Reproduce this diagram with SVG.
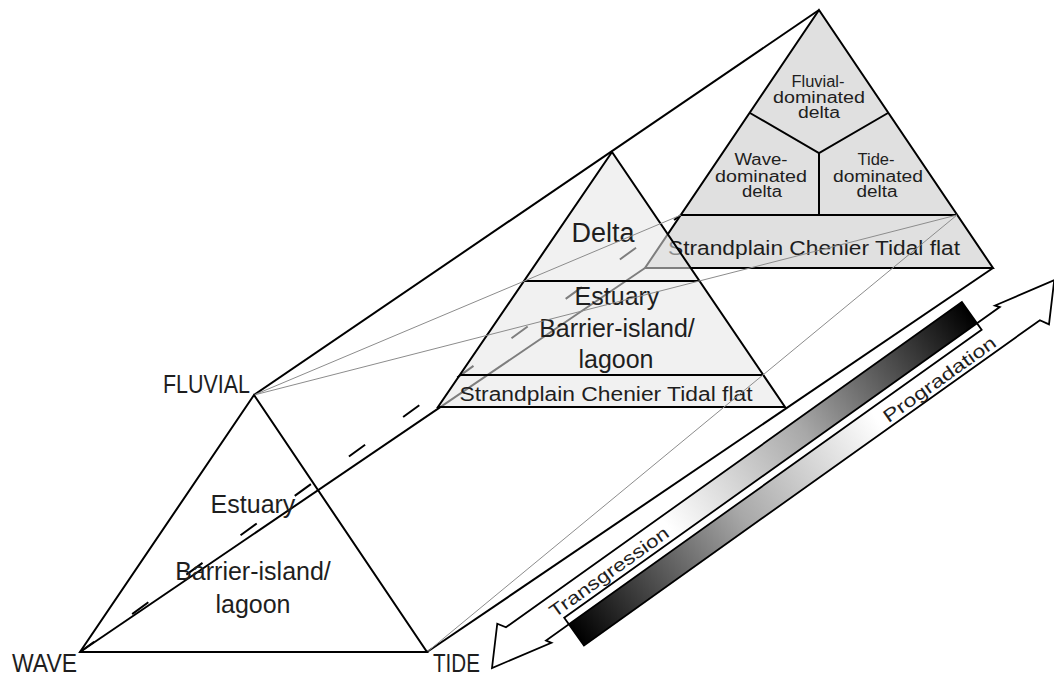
<svg xmlns="http://www.w3.org/2000/svg" width="1054" height="675" viewBox="0 0 1054 675">
<style>
.edge{stroke:#000;stroke-width:2;fill:none;stroke-linejoin:miter}
.thin{stroke:#8c8c8c;stroke-width:1;fill:none}
.t{font-family:"Liberation Sans",Arial,sans-serif;fill:#1e1e1e}
.c{text-anchor:middle}
</style>
<defs>
<linearGradient id="g1" gradientUnits="userSpaceOnUse" x1="225" y1="0" x2="595" y2="0">
<stop offset="0" stop-color="#fff"/><stop offset="0.45" stop-color="#a8a8a8"/><stop offset="1" stop-color="#000"/>
</linearGradient>
<linearGradient id="g2" gradientUnits="userSpaceOnUse" x1="88" y1="0" x2="458" y2="0">
<stop offset="0" stop-color="#000"/><stop offset="0.55" stop-color="#a8a8a8"/><stop offset="1" stop-color="#fff"/>
</linearGradient>
</defs>
<rect width="1054" height="675" fill="#fff"/>

<g id="connectors">
<line class="edge" x1="254" y1="395" x2="819" y2="10"/>
<line class="edge" x1="427" y1="652" x2="993" y2="268"/>
<line class="edge" x1="80" y1="652" x2="645" y2="268"/>
<line class="edge" x1="80" y1="652" x2="681" y2="215" stroke-width="2.4" stroke-dasharray="20 47" stroke-dashoffset="2.5"/>
</g>

<g id="back-triangle">
<polygon points="819,10 645,268 993,268" fill="#e0e0e0" stroke="#000" stroke-width="2"/>
<line class="edge" x1="681" y1="215" x2="957" y2="215"/>
<polyline class="edge" points="750,113 819,153 888,113"/>
<line class="edge" x1="819" y1="153" x2="819" y2="215"/>
<text class="t c" x="818" y="87" font-size="16" textLength="53" lengthAdjust="spacingAndGlyphs">Fluvial-</text>
<text class="t c" x="819" y="103" font-size="16" textLength="92" lengthAdjust="spacingAndGlyphs">dominated</text>
<text class="t c" x="819" y="118" font-size="16" textLength="42" lengthAdjust="spacingAndGlyphs">delta</text>
<text class="t c" x="761" y="165" font-size="16" textLength="53" lengthAdjust="spacingAndGlyphs">Wave-</text>
<text class="t c" x="761" y="182" font-size="16" textLength="92" lengthAdjust="spacingAndGlyphs">dominated</text>
<text class="t c" x="762" y="197" font-size="16" textLength="40" lengthAdjust="spacingAndGlyphs">delta</text>
<text class="t c" x="876" y="165" font-size="16" textLength="37" lengthAdjust="spacingAndGlyphs">Tide-</text>
<text class="t c" x="878" y="182" font-size="16" textLength="90" lengthAdjust="spacingAndGlyphs">dominated</text>
<text class="t c" x="877" y="197" font-size="16" textLength="41" lengthAdjust="spacingAndGlyphs">delta</text>
<text class="t c" x="814" y="255" font-size="20" textLength="292" lengthAdjust="spacingAndGlyphs">Strandplain Chenier Tidal flat</text>
</g>

<g id="middle-triangle">
<polygon points="612,152 438,407 785,407" fill="#e6e6e6" fill-opacity="0.55" stroke="#000" stroke-width="2"/>
<line class="edge" x1="524" y1="281" x2="700" y2="281"/>
<line class="edge" x1="460" y1="375" x2="763" y2="375"/>
<text class="t c" x="603" y="242" font-size="27">Delta</text>
<text class="t c" x="617" y="305" font-size="25">Estuary</text>
<text class="t c" x="617" y="337" font-size="25">Barrier-island/</text>
<text class="t c" x="616" y="368" font-size="25">lagoon</text>
<text class="t c" x="606" y="401" font-size="20" textLength="293" lengthAdjust="spacingAndGlyphs">Strandplain Chenier Tidal flat</text>
</g>

<g id="guide-lines">
<line class="thin" x1="254" y1="395" x2="681" y2="215"/>
<line class="thin" x1="254" y1="395" x2="957" y2="215"/>
<line class="thin" x1="427" y1="652" x2="957" y2="215"/>
</g>

<g id="front-triangle">
<polygon points="254,395 80,652 427,652" fill="none" stroke="#000" stroke-width="2"/>
<text class="t c" x="253" y="513" font-size="25">Estuary</text>
<text class="t c" x="253" y="580" font-size="25">Barrier-island/</text>
<text class="t c" x="253" y="613" font-size="25">lagoon</text>
</g>

<g id="labels">
<text class="t" x="250" y="393" font-size="25" text-anchor="end" textLength="87" lengthAdjust="spacingAndGlyphs">FLUVIAL</text>
<text class="t" x="12" y="672" font-size="25" textLength="65" lengthAdjust="spacingAndGlyphs">WAVE</text>
<text class="t" x="433" y="672" font-size="25" textLength="47" lengthAdjust="spacingAndGlyphs">TIDE</text>
</g>

<g id="arrow" transform="translate(492,668) rotate(-35.5)">
<polygon points="0,0 30,-33 35,-25 595,-25 595,9 60,9 63,14" fill="#fff"/>
<polygon points="683,10.7 653,43.7 648,35 88,35 88,1 623,1 620,-3" fill="#fff"/>
<rect x="225" y="-25" width="370" height="26" fill="url(#g1)"/>
<rect x="88" y="9" width="370" height="26" fill="url(#g2)"/>
<polygon points="0,0 30,-33 35,-25 595,-25 595,9 60,9 63,14" fill="none" stroke="#000" stroke-width="1.8"/>
<polygon points="683,10.7 653,43.7 648,35 88,35 88,1 623,1 620,-3" fill="none" stroke="#000" stroke-width="1.8"/>
<text class="t" x="80" y="-4" font-size="18" textLength="142" lengthAdjust="spacingAndGlyphs">Transgression</text>
<text class="t" x="465" y="31" font-size="18" textLength="134" lengthAdjust="spacingAndGlyphs">Progradation</text>
</g>
</svg>
